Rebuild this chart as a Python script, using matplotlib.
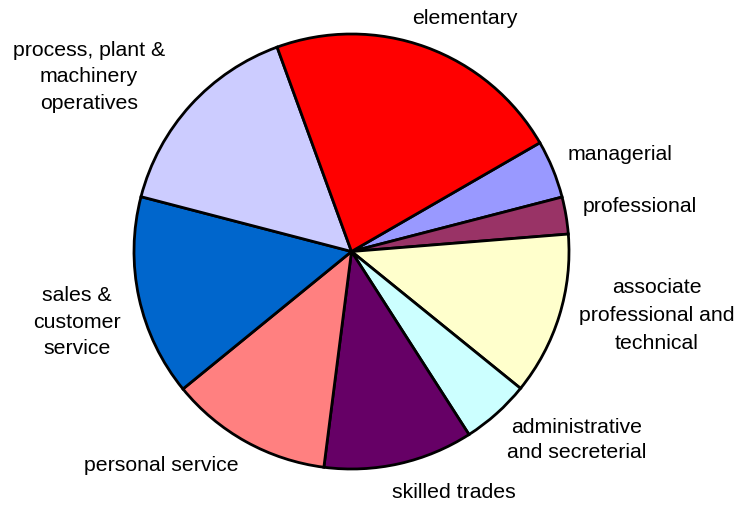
import matplotlib
matplotlib.use("Agg")
import matplotlib.pyplot as plt

# slice values (share of the pie, in degrees out of 360)
occupations = ["managerial", "professional", "associate professional and technical",
               "administrative and secreterial", "skilled trades", "personal service",
               "sales & customer service", "process, plant & machinery operatives",
               "elementary"]
shares = [15.5, 9.9, 43.6, 18.3, 40.0, 43.5, 53.8, 55.4, 80.0]
colours = ["#9999FF", "#993366", "#FFFFCC", "#CCFFFF", "#660066",
           "#FF8080", "#0066CC", "#CCCCFF", "#FF0000"]

# label text as it is wrapped on the chart
label_text = ["managerial", "professional", "associate\nprofessional and\ntechnical",
              "administrative\nand secreterial", "skilled trades", "personal service",
              "sales &\ncustomer\nservice", "process, plant &\nmachinery\noperatives",
              "elementary"]

W, H = 738, 506
cx, cy, r = 351.5, 252.5, 217.5

fig = plt.figure(figsize=(W / 100, H / 100), dpi=100)
ax = fig.add_axes([(cx - r) / W, (H - cy - r) / H, 2 * r / W, 2 * r / H])
ax.pie(shares, colors=colours, startangle=30, counterclock=False, radius=1,
       wedgeprops=dict(edgecolor="black", linewidth=2))
ax.set_xlim(-1, 1)
ax.set_ylim(-1, 1)
ax.set_aspect("equal")
ax.axis("off")

# label centres in pixel positions of the picture, and line spacing
label_pos = [(620, 155), (640, 207), (657, 316), (577, 440), (454, 493),
             (161, 466), (77, 322), (89, 77), (465, 18)]
spacing = [1.3, 1.3, 1.6, 1.45, 1.3, 1.3, 1.5, 1.5, 1.3]

for txt, (px, py), ls in zip(label_text, label_pos, spacing):
    fig.text(px / W, 1 - py / H, txt, ha="center", va="center",
             fontsize=15.3, family="Liberation Sans", linespacing=ls,
             multialignment="center")

fig.savefig("out.png", dpi=100)
